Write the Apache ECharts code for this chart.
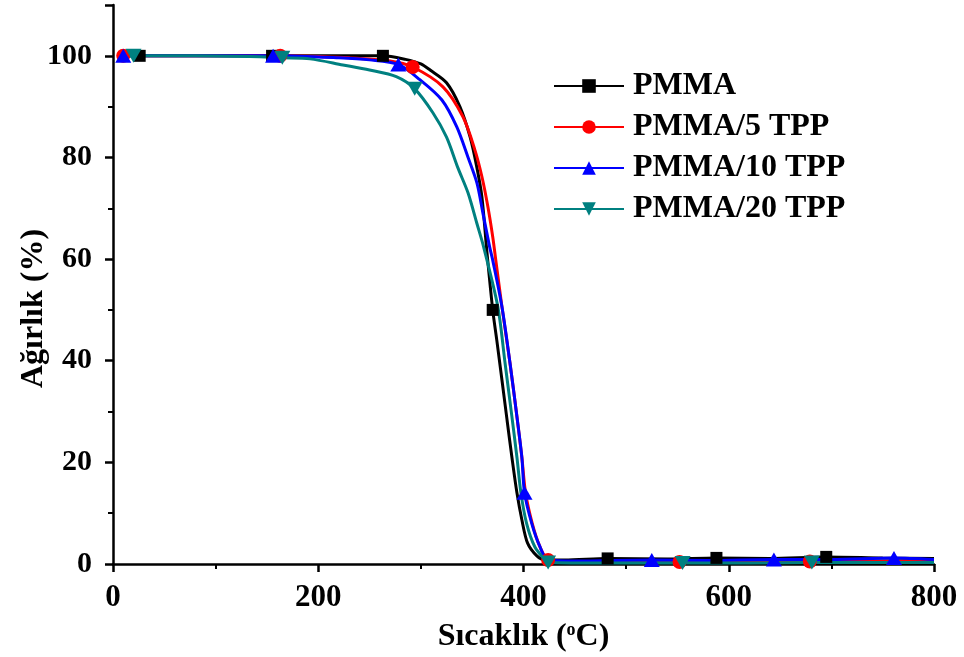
<!DOCTYPE html>
<html>
<head>
<meta charset="utf-8">
<script src="https://cdn.jsdelivr.net/npm/echarts@6/dist/echarts.min.js"></script>
<style>
  html, body { margin: 0; padding: 0; background: #fff; }
  #chart { width: 964px; height: 657px; }
</style>
</head>
<body>
<div id="chart"></div>
<script>
// TGA curves: temperature (°C) vs remaining weight (%)
var seriesNames = ['PMMA', 'PMMA/5 TPP', 'PMMA/10 TPP', 'PMMA/20 TPP'];
var seriesColors = ['#000000', '#ff0000', '#0000ff', '#008080'];

var pmmaCurve = [[5,100],[80,100],[210,100],[285,99.3],[300,98.4],[309,97.2],[325,94.7],[338,90],[348,84],[354.6,78],[359.5,72.2],[364.3,61.5],[374,44],[379,36.2],[384,28.3],[388.7,21],[393.6,14],[398.4,8.7],[404,4.1],[413,1.6],[421,0.8],[440,0.8],[540,1.0],[640,1.1],[750,1.2],[800,1.1]];
var pmmaMarks = [[26,100],[155,100],[263,100],[370,50],[482,1.1],[588,1.2],[695,1.4]];

var tpp5Curve = [[5,100],[80,100],[230,99.6],[270,99.0],[321.5,93.9],[341,88],[352.6,81.5],[359.5,76.2],[365.3,70.3],[370,64.4],[373,59.8],[379,50.6],[386.8,39.6],[393.6,29],[398.4,21],[402,14],[408.5,8],[416,3.4],[440,0.4],[500,0.3],[620,0.4],[740,0.5],[800,0.6]];
var tpp5Marks = [[10,100],[163,100],[292,97.8],[424,0.8],[552,0.4],[679,0.5]];

var tpp10Curve = [[5,100],[80,100],[220,99.6],[250,99.2],[299,95.3],[320.5,91.3],[335,86],[346,80],[354.6,75],[360.5,69],[367,62.4],[370,59.8],[379,50.6],[386.8,39.6],[393.6,29],[398.4,21],[408,8],[416,3.4],[424,0.8],[450,0.6],[580,0.7],[700,0.9],[800,0.9]];
var tpp10Marks = [[10,100],[156,100],[278,98.3],[401,14],[525,0.8],[644,0.9],[761,1.2]];

var tpp20Curve = [[5,100],[80,100],[143,99.8],[192,99.4],[224,98.2],[250,97.2],[276,95.9],[311.7,88.8],[325,84],[336,78],[346,73],[354.6,67],[361,62.5],[375,50.6],[382,39.6],[388.7,29],[393.6,21],[397.5,14],[403,8],[411,3.4],[421,0.8],[480,0.2],[620,0.2],[740,0.3],[800,0.3]];
var tpp20Marks = [[20,100],[165,99.6],[294,93.5],[424,0.3],[555,0.2],[681,0.3]];

var xTicks = { min: 0, max: 800, interval: 200 };
var yTicks = { min: 0, max: 110, interval: 20 };

var curves = [pmmaCurve, tpp5Curve, tpp10Curve, tpp20Curve];
var marks = [pmmaMarks, tpp5Marks, tpp10Marks, tpp20Marks];
var symbols = ['rect', 'circle', 'triangle', 'path://M0,0 L10,0 L5,9 Z'];
var symbolSizes = [12, 14, [16, 14], [16, 14]];

var font = '"Liberation Serif", "Times New Roman", serif';

function buildData(curve, mk) {
  var pts = curve.map(function (p) { return { value: p, symbol: 'none' }; });
  mk.forEach(function (p) { pts.push({ value: p }); });
  pts.sort(function (a, b) { return a.value[0] - b.value[0]; });
  return pts;
}

var series = seriesNames.map(function (name, i) {
  return {
    name: name,
    type: 'line',
    smooth: 0.3,
    data: buildData(curves[i], marks[i]),
    symbol: symbols[i],
    symbolSize: symbolSizes[i],
    showAllSymbol: true,
    color: seriesColors[i],
    lineStyle: { width: 3, color: seriesColors[i] },
    itemStyle: { color: seriesColors[i] },
    emphasis: { disabled: true },
    animation: false
  };
});

var axisLine = { show: true, onZero: false, lineStyle: { color: '#000', width: 2.5 } };

var chart = echarts.init(document.getElementById('chart'), null, { renderer: 'canvas' });
chart.setOption({
  backgroundColor: '#fff',
  animation: false,
  grid: { left: 113, right: 30, top: 5, bottom: 93, containLabel: false, outerBoundsMode: 'none' },
  legend: {
    orient: 'vertical',
    left: 553,
    top: 70,
    padding: 0,
    itemWidth: 70,
    itemHeight: 17,
    itemGap: 9,
    data: seriesNames,
    textStyle: { fontFamily: font, fontWeight: 'bold', fontSize: 32, color: '#000', padding: [0, 0, 0, 4] }
  },
  xAxis: {
    type: 'value',
    min: xTicks.min,
    max: xTicks.max,
    interval: xTicks.interval,
    name: 'Sıcaklık ({sup|o}C)',
    nameLocation: 'middle',
    nameGap: 57,
    nameMoveOverlap: false,
    nameTextStyle: {
      fontFamily: font, fontWeight: 'bold', fontSize: 32, color: '#000',
      rich: { sup: { fontFamily: font, fontWeight: 'bold', fontSize: 18, color: '#000', verticalAlign: 'top', padding: [0, 0, 14, 0] } }
    },
    axisLine: axisLine,
    axisTick: { show: true, inside: false, length: 8, lineStyle: { color: '#000', width: 2.5 } },
    minorTick: { show: true, splitNumber: 2, length: 5, lineStyle: { color: '#000', width: 2 } },
    axisLabel: { margin: 18, fontFamily: font, fontWeight: 'bold', fontSize: 31, color: '#000' },
    splitLine: { show: false }
  },
  yAxis: {
    type: 'value',
    min: yTicks.min,
    max: yTicks.max,
    interval: yTicks.interval,
    name: 'Ağırlık (%)',
    nameLocation: 'middle',
    nameGap: 63,
    nameMoveOverlap: false,
    nameTextStyle: { fontFamily: font, fontWeight: 'bold', fontSize: 32, color: '#000', padding: [0, 48, 0, 0] },
    axisLine: axisLine,
    axisTick: { show: true, inside: false, length: 8, lineStyle: { color: '#000', width: 2.5 } },
    minorTick: { show: true, splitNumber: 2, length: 5, lineStyle: { color: '#000', width: 2 } },
    axisLabel: {
      margin: 21, fontFamily: font, fontWeight: 'bold', fontSize: 30, color: '#000',
      formatter: function (v) { return v > 100 ? '' : String(v); }
    },
    splitLine: { show: false }
  },
  series: series
});
</script>
</body>
</html>
